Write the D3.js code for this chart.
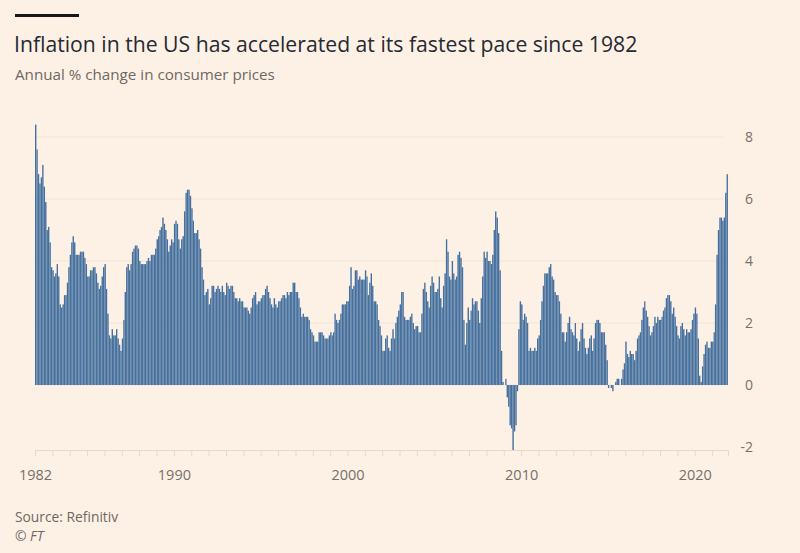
<!DOCTYPE html>
<html>
<head lang="en">
    <meta charset="UTF-8">
    <title>US inflation</title>
    <script src="https://cdn.jsdelivr.net/npm/d3@7"></script>
    <style>
        body { margin: 0; background: #fdf1e6; }
        text { font-family: "Open Sans", "Noto Sans", sans-serif; }
    </style>
</head>
<body>
<div id="chart"></div>
<script>
    // monthly annual % change in CPI, Jan 1982 onwards
    var cpi1980s = [
        8.4,7.6,6.8,6.5,6.7,7.1,6.4,5.9,5.0,5.1,4.6,3.8,
        3.7,3.5,3.6,3.9,3.5,2.6,2.5,2.6,2.9,2.9,3.3,3.8,
        4.2,4.6,4.8,4.6,4.2,4.2,4.2,4.3,4.3,4.3,4.1,3.9,
        3.5,3.5,3.7,3.7,3.8,3.8,3.6,3.3,3.1,3.2,3.5,3.8,
        3.9,3.1,2.3,1.6,1.5,1.8,1.6,1.6,1.8,1.5,1.3,1.1,
        1.5,2.1,3.0,3.8,3.9,3.7,3.9,4.3,4.4,4.5,4.5,4.4,
        4.0,3.9,3.9,3.9,3.9,4.0,4.1,4.0,4.2,4.2,4.2,4.4,
        4.7,4.8,5.0,5.1,5.4,5.2,5.0,4.7,4.3,4.5,4.7,4.6
    ];
    var cpi1990s = [
        5.2,5.3,5.2,4.7,4.4,4.7,4.8,5.6,6.2,6.3,6.3,6.1,
        5.7,5.3,4.9,4.9,5.0,4.7,4.4,3.8,3.4,2.9,3.0,3.1,
        2.6,2.8,3.2,3.2,3.0,3.1,3.2,3.1,3.0,3.2,3.0,2.9,
        3.3,3.2,3.1,3.2,3.2,3.0,2.8,2.8,2.7,2.8,2.7,2.7,
        2.5,2.5,2.5,2.4,2.3,2.5,2.8,2.9,3.0,2.6,2.7,2.7,
        2.8,2.9,2.9,3.1,3.2,3.0,2.8,2.6,2.5,2.8,2.6,2.5,
        2.7,2.7,2.8,2.9,2.9,2.8,3.0,2.9,3.0,3.0,3.3,3.3,
        3.0,3.0,2.8,2.5,2.2,2.3,2.2,2.2,2.2,2.1,1.8,1.7,
        1.6,1.4,1.4,1.4,1.7,1.7,1.7,1.6,1.5,1.5,1.5,1.6,
        1.7,1.6,1.7,2.3,2.1,2.0,2.1,2.3,2.6,2.6,2.6,2.7
    ];
    var cpi2000s = [
        2.7,3.2,3.8,3.1,3.2,3.7,3.7,3.4,3.5,3.4,3.4,3.4,
        3.7,3.5,2.9,3.3,3.6,3.2,2.7,2.7,2.6,2.1,1.9,1.6,
        1.1,1.1,1.5,1.6,1.2,1.1,1.5,1.8,1.5,2.0,2.2,2.4,
        2.6,3.0,3.0,2.2,2.1,2.1,2.1,2.2,2.3,2.0,1.8,1.9,
        1.9,1.7,1.7,2.3,3.1,3.3,3.0,2.7,2.5,3.2,3.5,3.3,
        3.0,3.0,3.1,3.5,2.8,2.5,3.2,3.6,4.7,4.3,3.5,3.4,
        4.0,3.6,3.4,3.5,4.2,4.3,4.1,3.8,2.1,1.3,2.0,2.5,
        2.1,2.4,2.8,2.6,2.7,2.7,2.4,2.0,2.8,3.5,4.3,4.1,
        4.3,4.0,4.0,3.9,4.2,5.0,5.6,5.4,4.9,3.7,1.1,0.1,
        0.0,0.2,-0.4,-0.7,-1.3,-1.4,-2.1,-1.5,-1.3,-0.2,1.8,2.7
    ];
    var cpi2010s = [
        2.6,2.1,2.3,2.2,2.0,1.1,1.2,1.1,1.1,1.2,1.1,1.5,
        1.6,2.1,2.7,3.2,3.6,3.6,3.6,3.8,3.9,3.5,3.4,3.0,
        2.9,2.9,2.7,2.3,1.7,1.7,1.4,1.7,2.0,2.2,1.8,1.7,
        1.6,2.0,1.5,1.1,1.4,1.8,2.0,1.5,1.2,1.0,1.2,1.5,
        1.6,1.1,1.5,2.0,2.1,2.1,2.0,1.7,1.7,1.7,1.3,0.8,
        -0.1,0.0,-0.1,-0.2,0.0,0.1,0.2,0.2,0.0,0.2,0.5,0.7,
        1.4,1.0,0.9,1.1,1.0,1.0,0.8,1.1,1.5,1.6,1.7,2.1,
        2.5,2.7,2.4,2.2,1.9,1.6,1.7,1.9,2.2,2.0,2.2,2.1,
        2.1,2.2,2.4,2.5,2.8,2.9,2.9,2.7,2.3,2.5,2.2,1.9,
        1.6,1.5,1.9,2.0,1.8,1.6,1.8,1.7,1.7,1.8,2.1,2.3
    ];
    var cpi2020s = [
        2.5,2.3,1.5,0.3,0.1,0.6,1.0,1.3,1.4,1.2,1.2,1.4,
        1.4,1.7,2.6,4.2,5.0,5.4,5.4,5.3,5.4,6.2,6.8
    ];
    var yTicks = [-2, 0, 2, 4, 6, 8];
    var yearLabels = [1982, 1990, 2000, 2010, 2020];

    var values = d3.merge([cpi1980s, cpi1990s, cpi2000s, cpi2010s, cpi2020s]);
    var start = new Date(1982, 0, 1);
    var data = values.map(function(v, i){
        return {date: d3.timeMonth.offset(start, i), value: v};
    });
    var end = d3.timeMonth.offset(start, values.length);

    var width = 800, height = 553;
    var svg = d3.select("#chart").append("svg")
            .attr("width", width)
            .attr("height", height);

    svg.append("rect").attr("width", width).attr("height", height).attr("fill", "#fdf1e6");

    // header
    svg.append("rect").attr("x", 15).attr("y", 14).attr("width", 64).attr("height", 3).attr("fill", "#1a1817");
    svg.append("text").attr("x", 14).attr("y", 52)
            .attr("font-size", 21.2).attr("fill", "#262a33")
            .text("Inflation in the US has accelerated at its fastest pace since 1982");
    svg.append("text").attr("x", 15).attr("y", 80)
            .attr("font-size", 15.2).attr("fill", "#6e6862")
            .text("Annual % change in consumer prices");

    var x = d3.scaleTime().domain([start, end]).range([35, 728]);
    var y = d3.scaleLinear().domain([-2, 8]).range([447, 137]);

    // gridlines
    svg.append("g").selectAll("line")
            .data(yTicks.filter(function(d){ return d > -2; }))
            .enter().append("line")
            .attr("x1", 34).attr("x2", 724)
            .attr("y1", function(d){ return y(d); })
            .attr("y2", function(d){ return y(d); })
            .attr("stroke", "#f2e4d6").attr("stroke-width", 1);

    // bars
    svg.append("g").selectAll("rect")
            .data(data)
            .enter().append("rect")
            .attr("x", function(d){ return x(d.date); })
            .attr("width", function(d){ return (x(d3.timeMonth.offset(d.date, 1)) - x(d.date)) * 0.96; })
            .attr("y", function(d){ return y(Math.max(0, d.value)); })
            .attr("height", function(d){ return Math.abs(y(d.value) - y(0)); })
            .attr("fill", "#46719f");

    // x axis along -2
    var gx = svg.append("g").attr("transform", "translate(0," + (y(-2) + 3) + ")");
    var xAxis = d3.axisBottom(x)
            .ticks(d3.timeYear.every(1))
            .tickSize(6)
            .tickFormat(function(d){
                return yearLabels.indexOf(d.getFullYear()) >= 0 ? d.getFullYear() : "";
            });
    gx.call(xAxis);
    gx.select(".domain").attr("stroke", "#e6d8ca");
    gx.selectAll(".tick line").attr("stroke", "#e6d8ca");
    gx.selectAll(".tick text").attr("font-size", 14.5).attr("fill", "#76706a")
            .attr("dy", "1.45em")
            .style("font-family", "'Open Sans', sans-serif");

    // y labels on the right
    svg.append("g").selectAll("text")
            .data(yTicks)
            .enter().append("text")
            .attr("x", 753)
            .attr("y", function(d){ return y(d) + 5; })
            .attr("text-anchor", "end")
            .attr("font-size", 14).attr("fill", "#76706a")
            .text(function(d){ return d; });

    // footer
    svg.append("text").attr("x", 15).attr("y", 522)
            .attr("font-size", 13.8).attr("fill", "#6e6862")
            .text("Source: Refinitiv");
    svg.append("text").attr("x", 15).attr("y", 541)
            .attr("font-size", 13.8).attr("fill", "#6e6862").attr("font-style", "italic")
            .text("© FT");
</script>
</body>
</html>
